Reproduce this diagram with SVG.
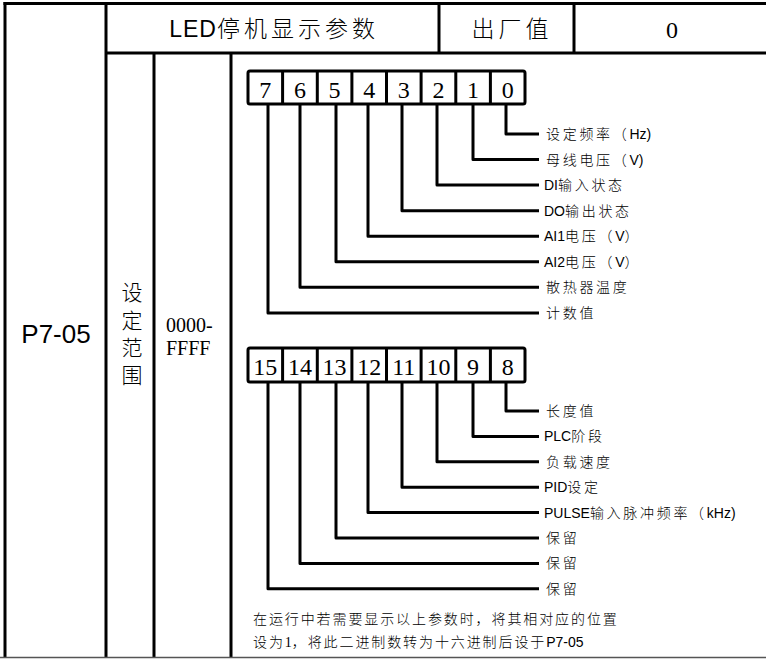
<svg xmlns="http://www.w3.org/2000/svg" width="766" height="659" viewBox="0 0 766 659">
<style>
.grid{stroke:#000;stroke-width:3;fill:none}
.hd{font-family:"Liberation Sans","Noto Sans CJK SC",sans-serif;font-weight:300;font-size:23px;letter-spacing:4px;fill:#000}
.sf{font-family:"Liberation Serif","Noto Sans CJK SC",serif;fill:#000}
.cj{font-family:"Noto Sans CJK SC","Liberation Sans",sans-serif;font-weight:300;fill:#000}
.box{fill:#fff;stroke:#000;stroke-width:3}
.div{stroke:#000;stroke-width:3}
.dg{font-family:"Liberation Serif",serif;font-size:24px;text-anchor:middle;fill:#000}
.cn{fill:none;stroke:#000;stroke-width:3;stroke-linejoin:round}
.lb{font-family:"Noto Sans CJK SC","Liberation Sans",sans-serif;font-weight:300;font-size:14px;letter-spacing:2.7px;fill:#000}
.la{font-family:"Liberation Sans",sans-serif;font-weight:400;letter-spacing:0}
.nt{font-family:"Noto Sans CJK SC","Liberation Sans",sans-serif;font-weight:300;font-size:14px;letter-spacing:1.9px;fill:#000}
</style>
<rect width="766" height="659" fill="#fff"/>
<g id="table">
<line class="grid" x1="3.5" y1="3.5" x2="766" y2="3.5"/>
<line class="grid" x1="5" y1="2" x2="5" y2="657"/>
<line class="grid" x1="106" y1="2" x2="106" y2="657"/>
<line class="grid" x1="106" y1="53" x2="766" y2="53"/>
<line class="grid" x1="439" y1="2" x2="439" y2="53"/>
<line class="grid" x1="574" y1="2" x2="574" y2="53"/>
<line class="grid" x1="154" y1="53" x2="154" y2="657"/>
<line class="grid" x1="231" y1="53" x2="231" y2="657"/>
<line x1="0" y1="657.5" x2="766" y2="657.5" stroke="#555" stroke-width="1.5"/>
</g>
<g id="header-name"><text class="hd" x="274" y="37" text-anchor="middle"><tspan letter-spacing="1">LED</tspan>停机显示参数</text></g>
<g id="header-default-label"><text class="hd" x="512" y="37" text-anchor="middle">出厂值</text></g>
<g id="header-default-value"><text class="sf" x="672" y="38" font-size="24" text-anchor="middle">0</text></g>
<g id="param-code"><text x="56" y="343" font-family="Liberation Sans,sans-serif" font-size="26" text-anchor="middle">P7-05</text></g>
<g id="range-label">
<text class="cj" font-size="21" x="132" y="300" text-anchor="middle">设</text>
<text class="cj" font-size="21" x="132" y="327.5" text-anchor="middle">定</text>
<text class="cj" font-size="21" x="132" y="355" text-anchor="middle">范</text>
<text class="cj" font-size="21" x="132" y="382.5" text-anchor="middle">围</text>
</g>
<g id="range-value">
<text class="sf" font-size="20" x="166" y="332">0000-</text>
<text class="sf" font-size="20" x="166" y="355">FFFF</text>
</g>
<g id="bits-low">
<rect class="box" x="248" y="71" width="277" height="33" rx="2"/>
<path class="div" d="M282.6 71V104M317.3 71V104M351.9 71V104M386.5 71V104M421.1 71V104M455.8 71V104M490.4 71V104"/>
<text class="dg" x="265.3" y="98">7</text>
<text class="dg" x="299.9" y="98">6</text>
<text class="dg" x="334.6" y="98">5</text>
<text class="dg" x="369.2" y="98">4</text>
<text class="dg" x="403.8" y="98">3</text>
<text class="dg" x="438.4" y="98">2</text>
<text class="dg" x="473.1" y="98">1</text>
<text class="dg" x="507.7" y="98">0</text>
</g>
<g id="bits-high">
<rect class="box" x="248" y="348" width="277" height="34" rx="2"/>
<path class="div" d="M282.6 348V382M317.3 348V382M351.9 348V382M386.5 348V382M421.1 348V382M455.8 348V382M490.4 348V382"/>
<text class="dg" x="265.3" y="375">15</text>
<text class="dg" x="299.9" y="375">14</text>
<text class="dg" x="334.6" y="375">13</text>
<text class="dg" x="369.2" y="375">12</text>
<text class="dg" x="403.8" y="375">11</text>
<text class="dg" x="438.4" y="375">10</text>
<text class="dg" x="473.1" y="375">9</text>
<text class="dg" x="507.7" y="375">8</text>
</g>
<g id="connectors">
<path class="cn" d="M506 104V134H539"/>
<path class="cn" d="M473 104V159.5H539"/>
<path class="cn" d="M437 104V185H539"/>
<path class="cn" d="M402 104V210.7H539"/>
<path class="cn" d="M368 104V236.2H539"/>
<path class="cn" d="M336 104V261.8H539"/>
<path class="cn" d="M300 104V287.3H539"/>
<path class="cn" d="M268 104V313H539"/>
<path class="cn" d="M506 382V411H539"/>
<path class="cn" d="M473 382V436.4H539"/>
<path class="cn" d="M437 382V461.8H539"/>
<path class="cn" d="M402 382V487.2H539"/>
<path class="cn" d="M368 382V512.6H539"/>
<path class="cn" d="M336 382V538H539"/>
<path class="cn" d="M300 382V563.4H539"/>
<path class="cn" d="M268 382V588.8H539"/>
</g>
<g id="label-bit0"><text class="lb" x="546" y="139">设定频率（<tspan class="la">Hz)</tspan></text></g>
<g id="label-bit1"><text class="lb" x="546" y="164.5">母线电压（<tspan class="la">V)</tspan></text></g>
<g id="label-bit2"><text class="lb" x="544" y="190"><tspan class="la">DI</tspan>输入状态</text></g>
<g id="label-bit3"><text class="lb" x="544" y="215.7"><tspan class="la">DO</tspan>输出状态</text></g>
<g id="label-bit4"><text class="lb" x="544" y="241.2"><tspan class="la">AI1</tspan>电压（<tspan class="la">V</tspan>）</text></g>
<g id="label-bit5"><text class="lb" x="544" y="266.8"><tspan class="la">AI2</tspan>电压（<tspan class="la">V</tspan>）</text></g>
<g id="label-bit6"><text class="lb" x="546" y="292.3">散热器温度</text></g>
<g id="label-bit7"><text class="lb" x="546" y="318">计数值</text></g>
<g id="label-bit8"><text class="lb" x="546" y="416">长度值</text></g>
<g id="label-bit9"><text class="lb" x="544" y="441.4"><tspan class="la">PLC</tspan>阶段</text></g>
<g id="label-bit10"><text class="lb" x="546" y="466.8">负载速度</text></g>
<g id="label-bit11"><text class="lb" x="544" y="492.2"><tspan class="la">PID</tspan>设定</text></g>
<g id="label-bit12"><text class="lb" x="544" y="517.6"><tspan class="la">PULSE</tspan>输入脉冲频率（<tspan class="la">kHz)</tspan></text></g>
<g id="label-bit13"><text class="lb" x="546" y="543">保留</text></g>
<g id="label-bit14"><text class="lb" x="546" y="568.4">保留</text></g>
<g id="label-bit15"><text class="lb" x="546" y="593.8">保留</text></g>
<g id="note">
<text class="nt" x="253" y="624">在运行中若需要显示以上参数时，将其相对应的位置</text>
<text class="nt" x="253" y="647">设为<tspan font-family="Liberation Serif,serif" letter-spacing="0">1</tspan>，将此二进制数转为十六进制后设于<tspan class="la">P7-05</tspan></text>
</g>
</svg>
